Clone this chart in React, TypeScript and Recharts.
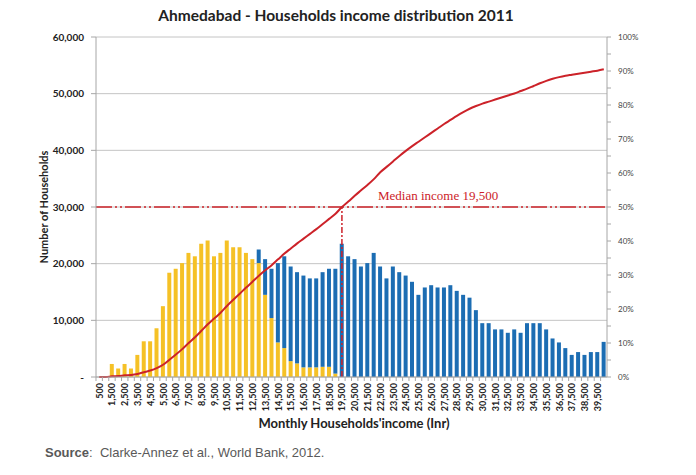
import {
  ComposedChart,
  Bar,
  Line,
  XAxis,
  YAxis,
  CartesianGrid,
  ReferenceLine,
} from 'recharts';

const incomeBands = [
  '500', '1,000', '1,500', '2,000', '2,500', '3,000', '3,500', '4,000', '4,500', '5,000',
  '5,500', '6,000', '6,500', '7,000', '7,500', '8,000', '8,500', '9,000', '9,500', '10,000',
  '10,500', '11,000', '11,500', '12,000', '12,500', '13,000', '13,500', '14,000', '14,500', '15,000',
  '15,500', '16,000', '16,500', '17,000', '17,500', '18,000', '18,500', '19,000', '19,500', '20,000',
  '20,500', '21,000', '21,500', '22,000', '22,500', '23,000', '23,500', '24,000', '24,500', '25,000',
  '25,500', '26,000', '26,500', '27,000', '27,500', '28,000', '28,500', '29,000', '29,500', '30,000',
  '30,500', '31,000', '31,500', '32,000', '32,500', '33,000', '33,500', '34,000', '34,500', '35,000',
  '35,500', '36,000', '36,500', '37,000', '37,500', '38,000', '38,500', '39,000', '39,500', '40,000',
];

// yellow part of each bar (households)
const yellowHouseholds = [
  0, 0, 2300, 1500, 2300, 1500, 3900, 6300, 6300, 8600,
  12500, 18400, 19100, 20100, 21900, 21300, 23500, 24100, 21300, 21900,
  24100, 22900, 22900, 21900, 20800, 20100, 14500, 10400, 6100, 5100,
  2800, 2400, 1700, 1700, 1700, 1800, 1800, 600, 0, 0,
  0, 0, 0, 0, 0, 0, 0, 0, 0, 0,
  0, 0, 0, 0, 0, 0, 0, 0, 0, 0,
  0, 0, 0, 0, 0, 0, 0, 0, 0, 0,
  0, 0, 0, 0, 0, 0, 0, 0, 0, 0,
];

// blue part stacked on top of the yellow one
const blueHouseholds = [
  0, 0, 0, 0, 0, 0, 0, 0, 0, 0,
  0, 0, 0, 0, 0, 0, 0, 0, 0, 0,
  0, 0, 0, 0, 0, 2400, 6300, 8700, 14000, 16200,
  16700, 16100, 16200, 15700, 15700, 16700, 17300, 18500, 23500, 21300,
  20800, 19500, 20100, 21900, 19500, 17400, 19500, 18500, 17900, 16800,
  14500, 15800, 16200, 15800, 15800, 16200, 15200, 14500, 14000, 11800,
  9500, 9500, 8400, 8400, 7800, 8400, 7800, 9500, 9500, 9500,
  8400, 6800, 6100, 5100, 3900, 4400, 3900, 4400, 4400, 6200,
];

// cumulative share of households, %
const cumulativeShare = [
  0, 0, 0.2, 0.3, 0.5, 0.6, 0.9, 1.4, 1.9, 2.6,
  3.6, 5.1, 6.6, 8.2, 10.0, 11.7, 13.6, 15.5, 17.2, 18.9,
  20.9, 22.7, 24.5, 26.3, 28.0, 29.8, 31.4, 32.9, 34.6, 36.3,
  37.8, 39.3, 40.7, 42.1, 43.5, 45.0, 46.5, 48.0, 50.0, 51.6,
  53.3, 54.9, 56.5, 58.2, 60.2, 61.8, 63.4, 65.0, 66.5, 67.9,
  69.2, 70.5, 71.8, 73.1, 74.4, 75.6, 76.8, 77.9, 78.9, 79.7,
  80.4, 81.0, 81.6, 82.2, 82.8, 83.4, 84.1, 84.8, 85.6, 86.4,
  87.1, 87.7, 88.2, 88.6, 88.9, 89.2, 89.5, 89.8, 90.1, 90.5,
];

const leftTicks = [0, 10000, 20000, 30000, 40000, 50000, 60000];
const rightTicks = [0, 5, 10, 15, 20, 25, 30, 35, 40, 45, 50, 55, 60, 65, 70, 75, 80, 85, 90, 95, 100];

const MEDIAN_BAND = '19,500';
const RED = '#cc2229';
const FONT = 'Lato, "Open Sans", sans-serif';

const data = incomeBands.map((income, i) => ({
  income,
  yellow: yellowHouseholds[i],
  blue: blueHouseholds[i],
  share: cumulativeShare[i],
}));

function IncomeTick(props: any) {
  const { x, y, payload, index } = props;
  return (
    <g transform={`translate(${x},${y})`}>
      <line x1={-3.2} x2={-3.2} y1={0} y2={4} stroke="#a6a6a6" />
      {index % 2 === 0 && (
        <text
          transform="rotate(-90)"
          x={-6}
          y={0}
          textAnchor="end"
          dominantBaseline="central"
          fontSize={9}
          fontWeight={700}
          fontFamily={FONT}
          fill="#222"
        >
          {payload.value}
        </text>
      )}
    </g>
  );
}

export default function App() {
  return (
    <div style={{ position: 'absolute', left: 0, top: 0, width: 696, height: 475, background: '#fff' }}>
      <div
        style={{
          position: 'absolute', left: 0, top: 6, width: 672, textAlign: 'center',
          fontFamily: FONT, fontWeight: 700, fontSize: 15.5, color: '#222',
        }}
      >
        Ahmedabad - Households income distribution 2011
      </div>

      <ComposedChart
        width={696}
        height={475}
        data={data}
        margin={{ top: 37, right: 40, left: 50, bottom: 0 }}
        barCategoryGap="16%"
      >
        <CartesianGrid yAxisId="left" vertical={false} stroke="#c4c4c4" />
        <XAxis
          dataKey="income"
          interval={0}
          height={98}
          tickSize={0}
          tickMargin={0}
          tickLine={false}
          tick={<IncomeTick />}
          axisLine={{ stroke: '#a6a6a6' }}
        />
        <YAxis
          yAxisId="left"
          domain={[0, 60000]}
          ticks={leftTicks}
          width={46}
          tickSize={5}
          tickMargin={7}
          tick={{ fontSize: 10, fontWeight: 700, fontFamily: FONT, fill: '#222' }}
          tickLine={{ stroke: '#a6a6a6' }}
          axisLine={{ stroke: '#a6a6a6' }}
          tickFormatter={(v: number) => (v === 0 ? '-' : v.toLocaleString('en-US'))}
        />
        <YAxis
          yAxisId="right"
          orientation="right"
          domain={[0, 100]}
          ticks={rightTicks}
          width={49}
          tickSize={4}
          tickMargin={7}
          tick={{ fontSize: 8, fontFamily: FONT, fill: '#444' }}
          tickLine={{ stroke: '#a6a6a6' }}
          axisLine={{ stroke: '#a6a6a6' }}
          tickFormatter={(v: number) => (v % 10 === 0 ? `${v}%` : '')}
        />
        <Bar yAxisId="left" dataKey="yellow" stackId="hh" fill="#f5c126" isAnimationActive={false} />
        <Bar yAxisId="left" dataKey="blue" stackId="hh" fill="#1c6db3" isAnimationActive={false} />
        <ReferenceLine
          yAxisId="left"
          y={30000}
          stroke={RED}
          strokeWidth={1.5}
          strokeDasharray="16 3 2 3 2 3"
        />
        <ReferenceLine
          yAxisId="left"
          segment={[{ x: MEDIAN_BAND, y: 0 }, { x: MEDIAN_BAND, y: 30000 }]}
          stroke={RED}
          strokeWidth={1.5}
          strokeDasharray="6 2 2 2"
        />
        <Line
          yAxisId="right"
          dataKey="share"
          type="monotone"
          stroke={RED}
          strokeWidth={2}
          dot={false}
          isAnimationActive={false}
        />
      </ComposedChart>

      <div
        style={{
          position: 'absolute', left: 378, top: 188, fontFamily: '"Liberation Serif", "DejaVu Serif", serif',
          fontSize: 13, color: RED, whiteSpace: 'nowrap',
        }}
      >
        Median income 19,500
      </div>

      <div
        style={{
          position: 'absolute', left: 0, top: 415, width: 708, textAlign: 'center',
          fontFamily: FONT, fontWeight: 700, fontSize: 13, color: '#222',
        }}
      >
        Monthly Households'income (Inr)
      </div>

      <div
        style={{
          position: 'absolute', left: 43, top: 207, width: 0, height: 0,
        }}
      >
        <div
          style={{
            position: 'absolute', left: 0, top: 0, transform: 'translate(-50%, -50%) rotate(-90deg)',
            fontFamily: FONT, fontWeight: 700, fontSize: 11, color: '#222', whiteSpace: 'nowrap',
          }}
        >
          Number of Households
        </div>
      </div>

      <div
        style={{
          position: 'absolute', left: 45, top: 445, fontFamily: '"Liberation Sans", Arial, sans-serif',
          fontSize: 13, color: '#595959', whiteSpace: 'nowrap',
        }}
      >
        <b>Source</b>:&nbsp; Clarke-Annez et al., World Bank, 2012.
      </div>
    </div>
  );
}
